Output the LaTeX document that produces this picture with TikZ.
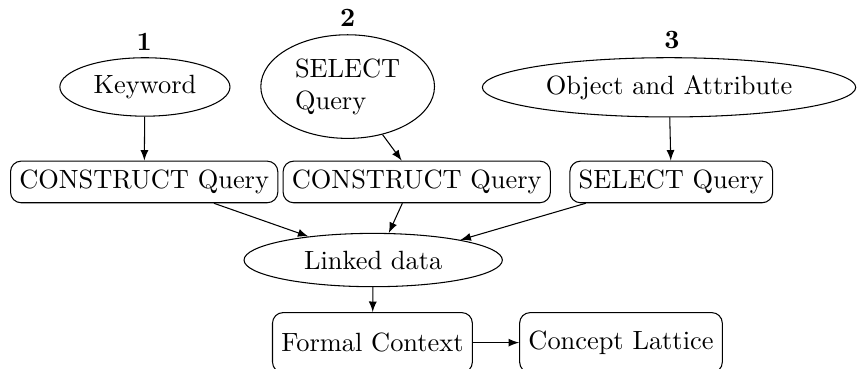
\documentclass[tikz,border=0pt]{standalone}
\usetikzlibrary{shapes.geometric}
\tikzset{
  src/.style={draw, ellipse, minimum height=0.77cm},
  qry/.style={draw, rounded corners},
  res/.style={draw, rounded corners, minimum height=0.8cm}
}
\begin{document}
\begin{tikzpicture}
\useasboundingbox (0,0) rectangle (11.44,4.913);
\node (n1) at (1.92,4.35) {\textbf{1}};
\node[src] (kw) at (1.93,3.755) {Keyword};
\node[qry] (c1) at (1.92,2.49) {CONSTRUCT Query};
\draw[-latex] (kw) -- (c1);

\node (n2) at (4.63,4.67) {\textbf{2}};
\node[src, align=left] (sq) at (4.63,3.76) {SELECT\\Query};
\node[qry] (c2) at (5.55,2.49) {CONSTRUCT Query};
\draw[-latex] (sq.-54) -- ([xshift=-0.2cm]c2.north);

\node (n3) at (8.95,4.38) {\textbf{3}};
\node[src] (oa) at (8.91,3.75) {Object and Attribute};
\node[qry] (sb) at (8.94,2.49) {SELECT Query};
\draw[-latex] (oa) -- (sb);

%\draw (0,2) -- (11,2);
\node[src, minimum width=3.44cm, minimum height=0.71cm] (ld) at (4.97,1.45) {Linked data};
\draw[-latex] (c1.-17) -- (ld.160);
\draw[-latex] (c2.-124) -- (ld.60);
\draw[-latex] (sb.-166) -- (ld.13);

\node[res] (fc) at (4.96,0.35) {Formal Context};
\draw[-latex] (ld) -- (fc);
\node[res] (cl) at (8.27,0.35) {Concept Lattice};
\draw[-latex] (fc) -- (cl);
\end{tikzpicture}
\end{document}
